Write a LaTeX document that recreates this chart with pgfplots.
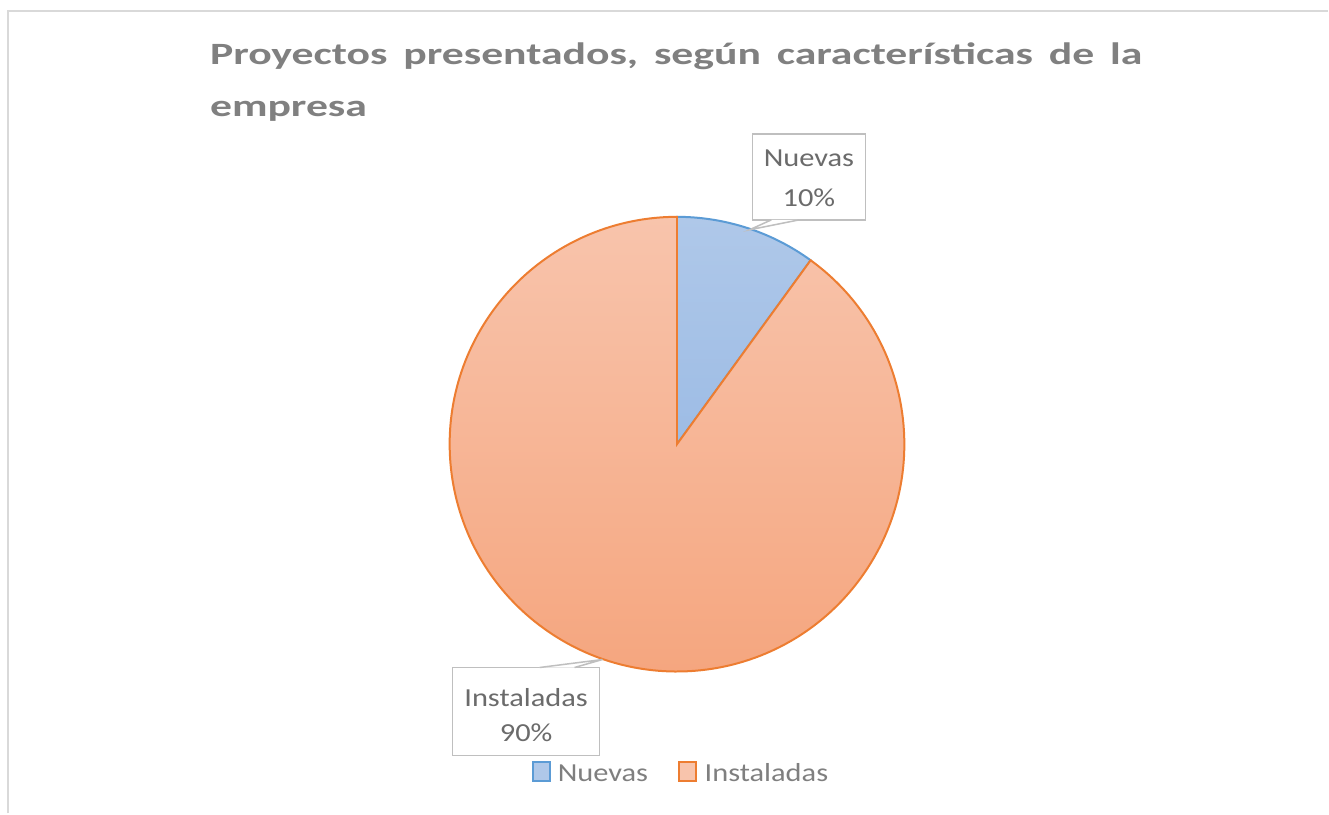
\documentclass[border=0pt]{standalone}
\usepackage{pgfplots}
\pgfplotsset{compat=1.18}
\usepackage{pgfplotstable}
\usepackage{fontspec}
\setmainfont{Carlito}
\newfontfamily\titlefont[FakeStretch=1.41, WordSpace=1.6]{Carlito}
\newfontfamily\labelfont[FakeStretch=1.17]{Carlito}
\definecolor{titlegray}{HTML}{808080}
\definecolor{labelgray}{HTML}{6B6B6B}
\definecolor{legendgray}{HTML}{7F7F7F}
\definecolor{boxgray}{HTML}{BFBFBF}
\definecolor{framegray}{HTML}{D9D9D9}
\definecolor{blueline}{HTML}{5B9BD5}
\definecolor{bluetop}{HTML}{AFC8E9}
\definecolor{bluebot}{HTML}{9DBCE5}
\definecolor{orangeline}{HTML}{ED7D31}
\definecolor{orangetop}{HTML}{F8C4AC}
\definecolor{orangebot}{HTML}{F5A47C}

\pgfplotstableread{
name value
Nuevas 10
Instaladas 90
}\piedata

\pgfplotstablegetelem{0}{value}\of\piedata
\let\vA\pgfplotsretval
\pgfplotstablegetelem{1}{value}\of\piedata
\let\vB\pgfplotsretval
\pgfmathsetmacro{\aA}{90-360*\vA/(\vA+\vB)}
\pgfmathsetmacro{\aEnd}{90-360}

\begin{document}
\begin{tikzpicture}
\begin{axis}[
  x=1pt, y=1pt, xmin=0, xmax=1329, ymin=0, ymax=814,
  hide axis, scale only axis, clip=false,
]
\path (axis cs:0,0) rectangle (axis cs:1329,814);
% frame
\draw[framegray, line width=2pt] (axis cs:8,0) -- (axis cs:8,803) -- (axis cs:1329,803);
% title
\node[anchor=base west, inner sep=0pt, font=\titlefont\fontsize{31}{31}\selectfont\bfseries, text=titlegray] at (axis cs:210,749) {Proyectos presentados, según características de la};
\node[anchor=base west, inner sep=0pt, font=\titlefont\fontsize{31}{31}\selectfont\bfseries, text=titlegray] at (axis cs:210,697) {empresa};
% pie
\filldraw[draw=blueline, line width=2pt, top color=bluetop, bottom color=bluebot]
  (axis cs:677.5,369.5) -- ++(90:227.5pt) arc[start angle=90, end angle=\aA, radius=227.5pt] -- cycle;
\filldraw[draw=orangeline, line width=2pt, top color=orangetop, bottom color=orangebot]
  (axis cs:677.5,369.5) -- ++(\aA:227.5pt) arc[start angle=\aA, end angle=\aEnd, radius=227.5pt] -- cycle;
% data labels
\draw[boxgray, line width=1.5pt, fill=white] (axis cs:753,680) rectangle (axis cs:866,594);
\draw[boxgray, line width=1.5pt, fill=white] (axis cs:772,594) -- (axis cs:750,584) -- (axis cs:800,594);
\node[anchor=base, inner sep=0pt, text=labelgray, font=\labelfont\fontsize{26}{26}\selectfont] at (axis cs:809.5,647) {Nuevas};
\node[anchor=base, inner sep=0pt, text=labelgray, font=\labelfont\fontsize{26}{26}\selectfont] at (axis cs:809.5,607) {10\%};
\draw[boxgray, line width=1.5pt, fill=white] (axis cs:453,146) rectangle (axis cs:600,58);
\draw[boxgray, line width=1.5pt, fill=white] (axis cs:540,146) -- (axis cs:603,154) -- (axis cs:575,146);
\node[anchor=base, inner sep=0pt, text=labelgray, font=\labelfont\fontsize{26}{26}\selectfont] at (axis cs:526.5,107) {Instaladas};
\node[anchor=base, inner sep=0pt, text=labelgray, font=\labelfont\fontsize{26}{26}\selectfont] at (axis cs:526.5,72) {90\%};
% legend
\draw[blueline, line width=2pt, fill=bluetop] (axis cs:533,51) rectangle (axis cs:550,32);
\node[anchor=base west, inner sep=0pt, text=legendgray, font=\labelfont\fontsize{26}{26}\selectfont] at (axis cs:558,32) {Nuevas};
\draw[orangeline, line width=2pt, fill=orangetop] (axis cs:680,51) rectangle (axis cs:697,32);
\node[anchor=base west, inner sep=0pt, text=legendgray, font=\labelfont\fontsize{26}{26}\selectfont] at (axis cs:705,32) {Instaladas};
\end{axis}
\end{tikzpicture}
\end{document}
